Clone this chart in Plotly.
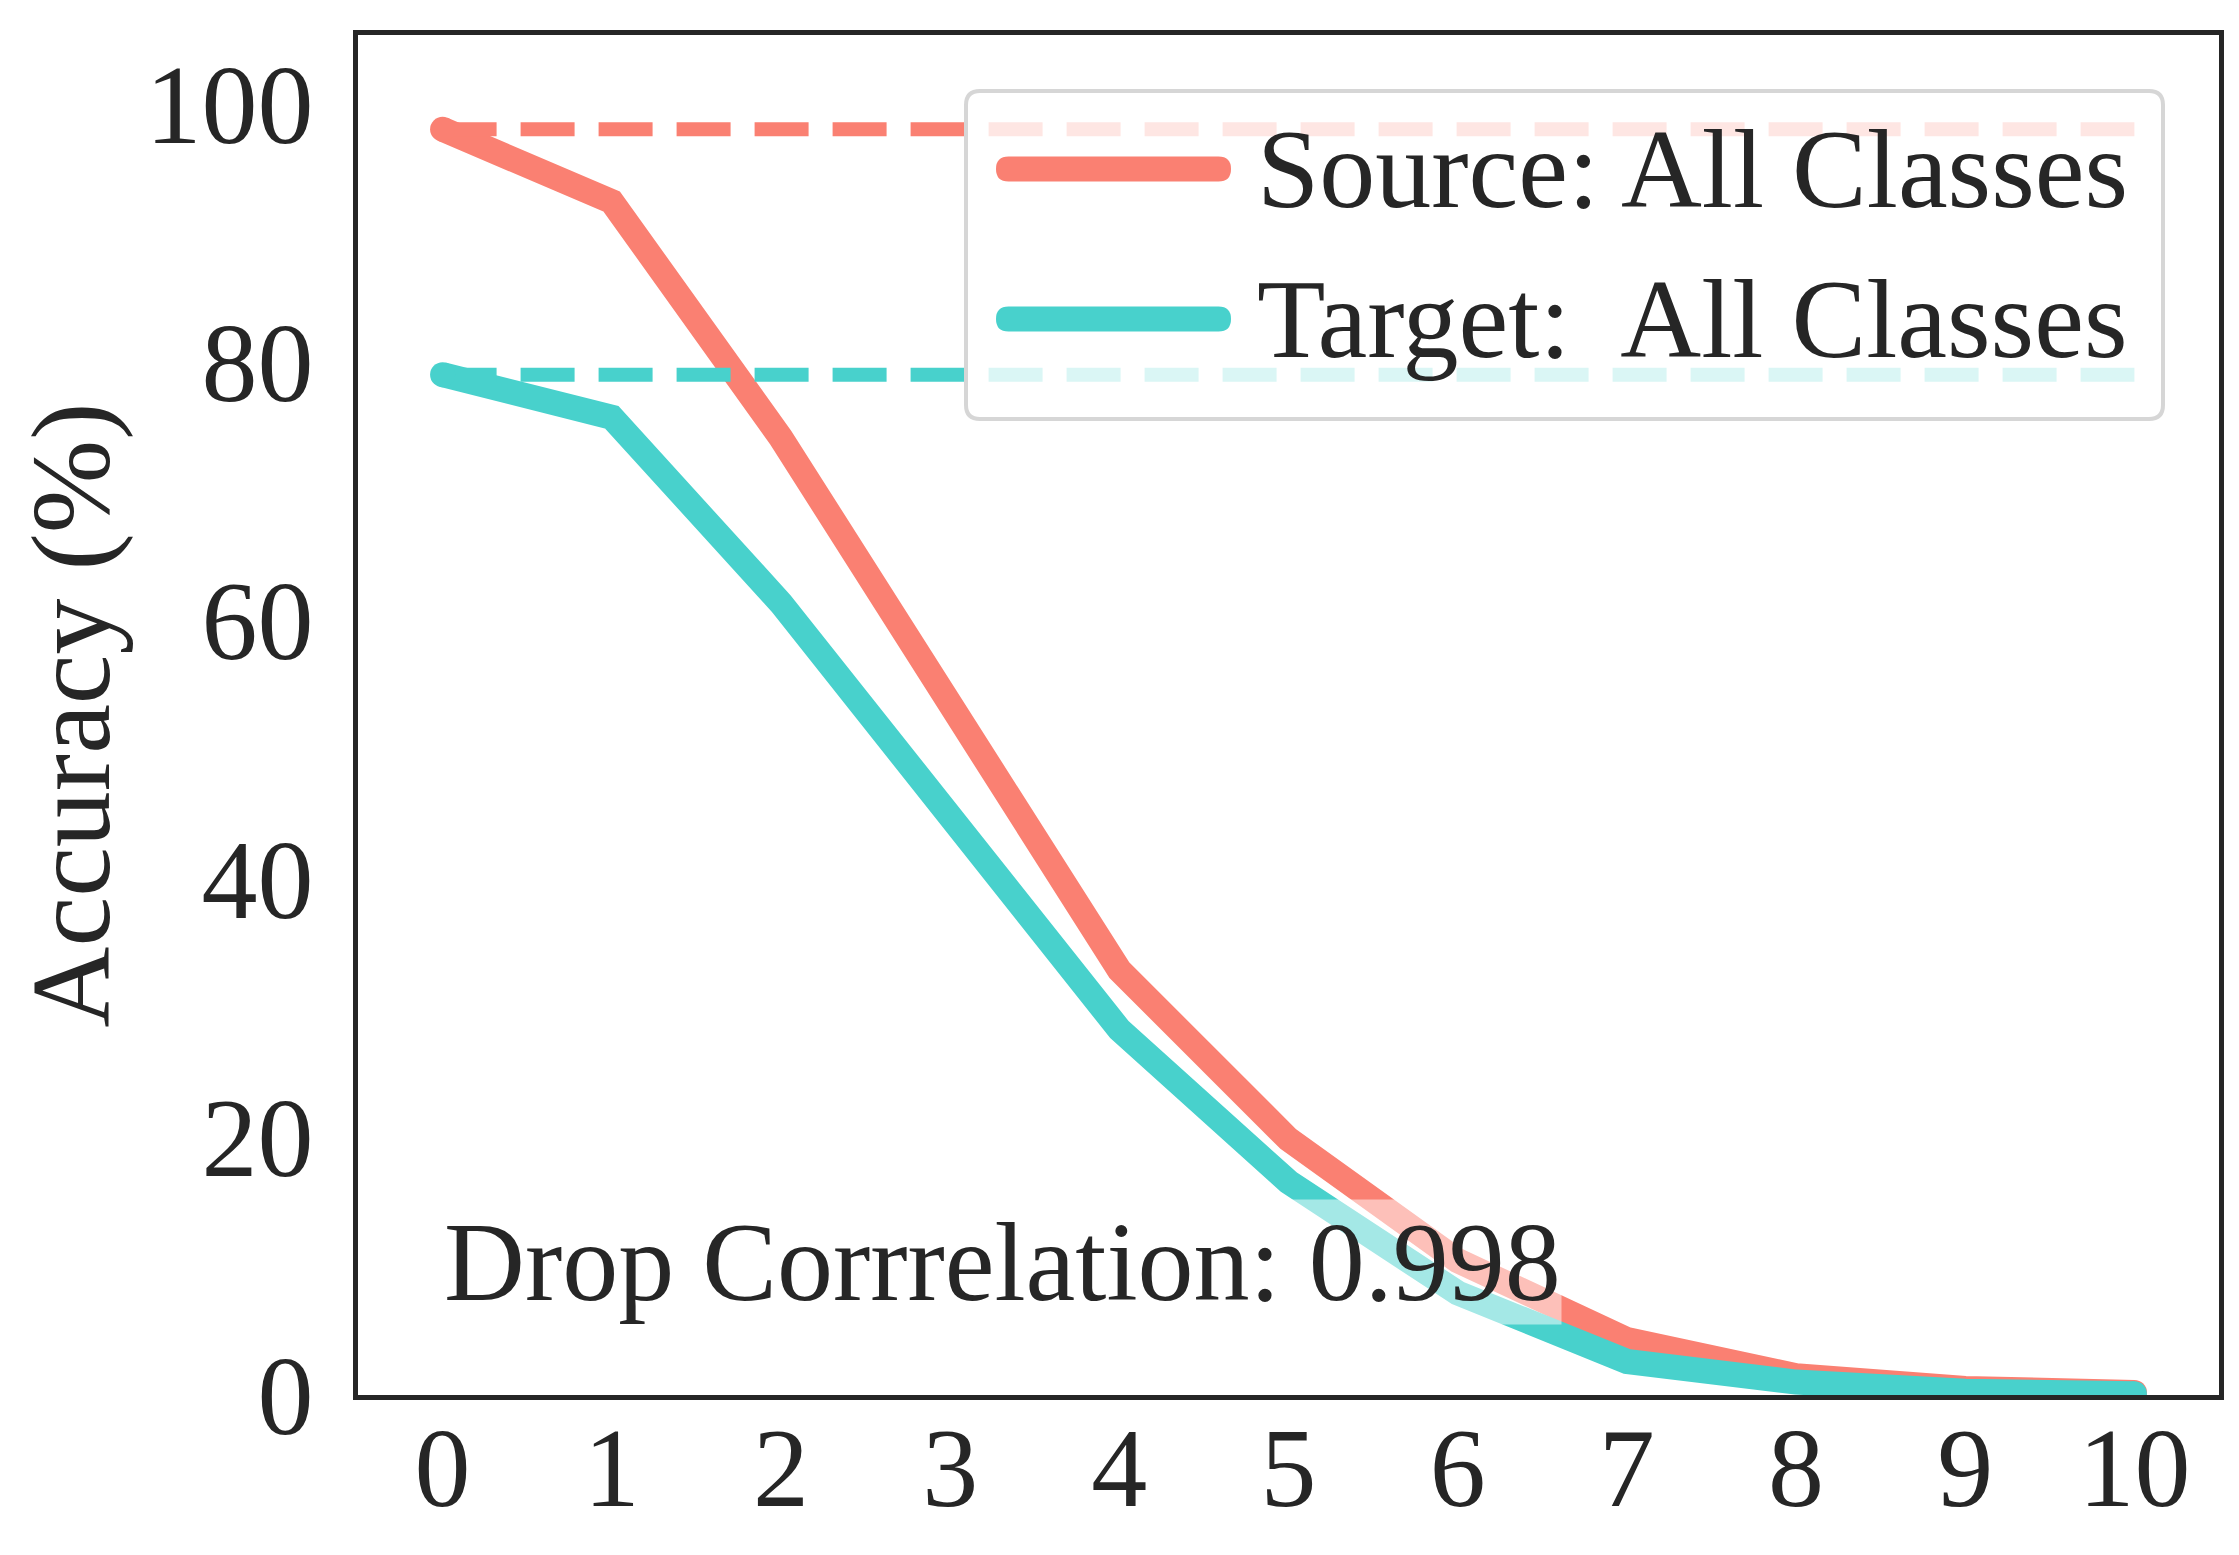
import plotly.graph_objects as go

steps = [0, 1, 2, 3, 4, 5, 6, 7, 8, 9, 10]
source_acc = [98.0, 92.4, 74.1, 53.5, 32.9, 19.8, 10.4, 4.3, 1.5, 0.5, 0.2]
target_acc = [79.0, 75.7, 61.3, 44.6, 28.3, 16.5, 7.9, 2.6, 1.0, 0.3, 0.1]
source_label = "Source: All Classes"
target_label = "Target:  All Classes"
note_text = "Drop Corrrelation: 0.998"
y_ticks = [0, 20, 40, 60, 80, 100]

SALMON = "#FA8072"
TEAL = "#48D1CC"
INK = "#262626"
FONT = "Liberation Serif"
FS = 112

W, H = 2239, 1555
ML, MR, MT, MB = 350, 28, 27, 168
PW, PH = W - ML - MR, H - MT - MB


def px2paper(px, py):
    return (px - ML) / PW, (MT + PH - py) / PH


def rounded_rect(x0px, y0px, x1px, y1px, r):
    x0p, y1p = px2paper(x0px, y0px)
    x1p, y0p = px2paper(x1px, y1px)
    rx, ry = r / PW, r / PH
    return (f"M {x0p+rx},{y0p} L {x1p-rx},{y0p} Q {x1p},{y0p} {x1p},{y0p+ry} "
            f"L {x1p},{y1p-ry} Q {x1p},{y1p} {x1p-rx},{y1p} L {x0p+rx},{y1p} "
            f"Q {x0p},{y1p} {x0p},{y1p-ry} L {x0p},{y0p+ry} Q {x0p},{y0p} {x0p+rx},{y0p} Z")


fig = go.Figure()

series = [(source_label, source_acc, SALMON), (target_label, target_acc, TEAL)]
for name, vals, col in series:
    fig.add_trace(go.Scatter(x=steps, y=vals, mode="lines", name=name, showlegend=False,
                             line=dict(color=col, width=25)))
    fig.add_trace(go.Scatter(x=[steps[0], steps[-1]], y=[vals[0], vals[0]], mode="lines",
                             showlegend=False, hoverinfo="skip",
                             line=dict(color=col, width=14, dash="54px,24px")))
    # round caps at the ends of the solid curve
    fig.add_trace(go.Scatter(x=[steps[0], steps[-1]], y=[vals[0], vals[-1]], mode="markers",
                             showlegend=False, hoverinfo="skip",
                             marker=dict(color=col, size=25, line=dict(width=0))))

# legend box (semi-transparent, rounded)
fig.add_shape(type="path", path=rounded_rect(958, 83, 2155, 411, 14), xref="paper", yref="paper",
              layer="above", fillcolor="rgba(255,255,255,0.8)", line=dict(color="#d6d6d6", width=4))

# legend entries
for (name, vals, col), yc in zip(series, [161, 311]):
    fig.add_shape(type="path", path=rounded_rect(988, yc - 12.5, 1223, yc + 12.5, 12.5),
                  xref="paper", yref="paper", layer="above", fillcolor=col, line=dict(width=0))
    xp, yp = px2paper(1684, yc)
    fig.add_annotation(x=xp, y=yp, xref="paper", yref="paper", text=name, showarrow=False,
                       xanchor="center", yanchor="middle",
                       font=dict(family=FONT, size=FS, color=INK))

fig.add_annotation(x=steps[0], y=10.3, xref="x", yref="y", text=note_text, showarrow=False,
                   xanchor="left", yanchor="middle", font=dict(family=FONT, size=FS, color=INK),
                   bgcolor="rgba(255,255,255,0.5)", borderpad=0)

fig.update_layout(
    width=W, height=H,
    margin=dict(l=ML, r=MR, t=MT, b=MB, autoexpand=False),
    paper_bgcolor="white", plot_bgcolor="white",
    font=dict(family=FONT, size=FS, color=INK),
    showlegend=False,
)
fig.update_xaxes(range=[-0.5, 10.5], tickvals=steps, ticktext=[str(s) for s in steps],
                 showgrid=False, zeroline=False, showline=True, linecolor=INK, linewidth=5,
                 mirror=True, ticks="", ticklabelstandoff=-28,
                 tickfont=dict(family=FONT, size=FS, color=INK))
fig.update_yaxes(range=[0, 105.3], tickvals=y_ticks,
                 showgrid=False, zeroline=False, showline=True, linecolor=INK, linewidth=5,
                 mirror=True, ticks="", ticklabelstandoff=17,
                 tickfont=dict(family=FONT, size=FS, color=INK),
                 title=dict(text="Accuracy (%)", standoff=0, font=dict(family=FONT, size=FS, color=INK)))

fig.write_html("out.html")
